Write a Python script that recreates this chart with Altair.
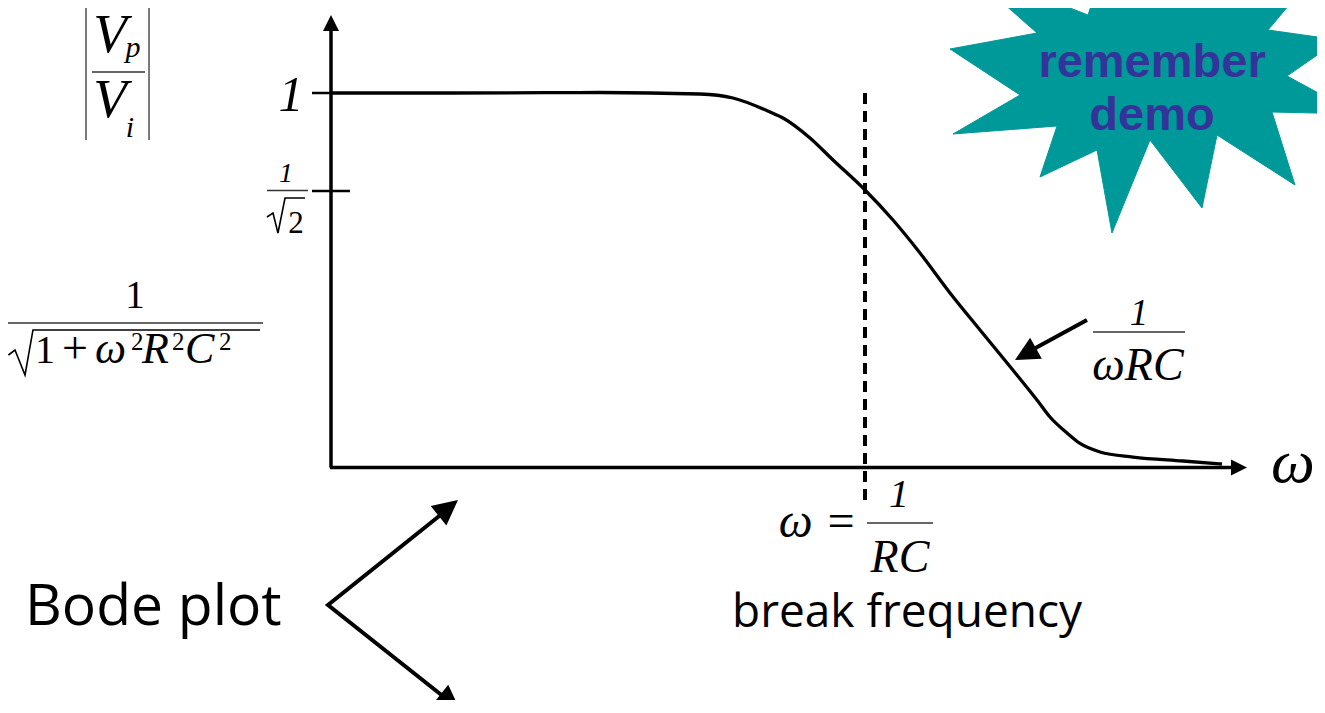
import altair as alt
import pandas as pd

# ---------------- data (chart units: x = omega*RC, y = |Vp/Vi|) ----------------
X_DOMAIN = [-0.60487, 1.84644]
Y_DOMAIN = [-0.62083, 1.22697]

# response curve
curve_x = [0.0, 0.2228, 0.5037, 0.6910, 0.7528, 0.8221, 0.8464, 0.8970, 0.9401, 1.0,
           1.0524, 1.1030, 1.1592, 1.2154, 1.2715, 1.3221, 1.3464, 1.3783, 1.4026,
           1.4401, 1.5019, 1.5955, 1.6685]
curve_y = [1.0, 1.0, 1.0013, 0.9973, 0.9866, 0.9493, 0.9332, 0.8798, 0.8211, 0.7410,
           0.6609, 0.5728, 0.4660, 0.3672, 0.2697, 0.1802, 0.1348, 0.0921, 0.0641,
           0.0414, 0.0280, 0.0174, 0.0093]

# break frequency (dashed)
break_x = [1.0]
break_y = [1.0]
break_y2 = [-0.1001]

# axes
axis_x = [0.0, -0.002]
axis_y = [0.0, 0.0]
axis_x2 = [0.0, 1.6929]
axis_y2 = [1.1816, 0.0]
axis_tip_x = [0.0, 1.7154]
axis_tip_y = [1.2083, 0.0]
axis_tip_angle = [0, 90]

# y ticks at 1 and 1/sqrt(2)
tick_x = [-0.0356, -0.0356]
tick_x2 = [0.0, 0.0356]
tick_y = [1.0, 0.7383]

# thin fraction bars
bar_x = [-0.4476, -0.1199, -0.6067, 1.4270, 1.0037]
bar_x2 = [-0.3483, -0.0431, -0.1273, 1.5993, 1.1273]
bar_y = [1.0561, 0.7397, 0.3858, 0.3618, -0.1482]
# absolute value bars
abs_x = [-0.4588, -0.3408]
abs_y = [1.2350, 1.2350]
abs_y2 = [0.8745, 0.8745]

# radical signs (sqrt 2, sqrt of the denominator)
rad_g = [0, 0, 0, 0, 0, 1, 1, 1, 1, 1]
rad_x = [-0.1199, -0.1086, -0.0993, -0.0861, -0.0487,
         -0.6040, -0.5918, -0.5730, -0.5581, -0.1330]
rad_y = [0.6689, 0.6796, 0.6262, 0.7196, 0.7196,
         0.3004, 0.3137, 0.2470, 0.3672, 0.3672]

# 1/(omega RC) pointer arrow
ptr_x = [1.4157]
ptr_y = [0.3939]
ptr_x2 = [1.3090]
ptr_y2 = [0.3111]
ptr_tip_x = [1.2809]
ptr_tip_y = [0.2871]
ptr_tip_angle = [240.9]

# "Bode plot" fork arrows (polyline)
fork_x = [0.2097, -0.0056, 0.2116]
fork_y = [-0.1215, -0.3672, -0.6128]
fork_tip_x = [0.2378, 0.2416]
fork_tip_y = [-0.0868, -0.6475]
fork_tip_angle = [51.1, 128.5]

# "remember demo" star
star_x = [1.1592, 1.3221, 1.1779, 1.4176, 1.4438, 1.5431, 1.5993, 1.6648, 1.8052,
          1.7547, 1.8876, 1.7903, 1.9213, 1.7622, 1.8052, 1.6592, 1.6311, 1.5337,
          1.4625, 1.4345, 1.3277, 1.3596, 1.1648, 1.2903, 1.1592]
star_y = [1.1175, 1.1602, 1.3418, 1.2083, 1.3204, 1.2270, 1.3017, 1.2403, 1.2537,
          1.1682, 1.1415, 1.0454, 0.9439, 0.9492, 0.7543, 0.8879, 0.6929, 0.8745,
          0.6262, 0.8478, 0.7757, 0.9119, 0.8905, 0.9947, 1.1175]

SERIF = "Liberation Serif"
HAND = "Open Sans"
ARROW = "M0,0L1,2L-1,2Z"


def X():
    return alt.X("x:Q", scale=alt.Scale(domain=X_DOMAIN, nice=False, zero=False), axis=None)


def Y():
    return alt.Y("y:Q", scale=alt.Scale(domain=Y_DOMAIN, nice=False, zero=False), axis=None)


def segs(xs, ys, x2s, y2s, width, color="black", dash=None):
    df = pd.DataFrame({"x": xs, "y": ys, "x2": x2s, "y2": y2s})
    kw = dict(color=color, strokeWidth=width)
    if dash:
        kw["strokeDash"] = dash
    return alt.Chart(df).mark_rule(**kw).encode(x=X(), y=Y(), x2="x2:Q", y2="y2:Q")


def heads(xs, ys, angles, size):
    df = pd.DataFrame({"x": xs, "y": ys, "a": angles})
    return alt.Chart(df).mark_point(shape=ARROW, filled=True, size=size, color="black",
                                    opacity=1, strokeWidth=0).encode(
        x=X(), y=Y(), angle=alt.Angle("a:Q", scale=None))


def label(texts, xs, ys, size, style="italic", font=SERIF, align="center",
          weight="normal", color="black"):
    df = pd.DataFrame({"x": xs, "y": ys, "t": texts})
    return alt.Chart(df).mark_text(fontSize=size, fontStyle=style, font=font, align=align,
                                   baseline="alphabetic", fontWeight=weight,
                                   color=color).encode(x=X(), y=Y(), text="t:N")


star_df = pd.DataFrame({"x": star_x, "y": star_y, "i": list(range(len(star_x)))})
star = alt.Chart(star_df).mark_line(fill="#009999", stroke="#009999", strokeWidth=1,
                                    interpolate="linear", clip=True).encode(
    x=X(), y=Y(), order="i:Q")

curve_df = pd.DataFrame({"x": curve_x, "y": curve_y})
curve = alt.Chart(curve_df).mark_line(color="black", strokeWidth=3.3,
                                      interpolate="monotone").encode(x=X(), y=Y())

fork_df = pd.DataFrame({"x": fork_x, "y": fork_y, "i": [0, 1, 2]})
fork = alt.Chart(fork_df).mark_line(color="black", strokeWidth=4, strokeJoin="miter").encode(
    x=X(), y=Y(), order="i:Q")

rad_df = pd.DataFrame({"x": rad_x, "y": rad_y, "g": rad_g, "i": list(range(len(rad_x)))})
radicals = alt.Chart(rad_df).mark_line(color="black", strokeWidth=1.6,
                                       strokeJoin="miter").encode(
    x=X(), y=Y(), detail="g:N", order="i:Q")

layers = [
    star,
    label(["remember", "demo"], [1.5375, 1.5375], [1.0427, 0.9012], 47, style="normal",
          font="Liberation Sans", weight="bold", color="#333399"),
    segs(axis_x, axis_y, axis_x2, axis_y2, 3.5),
    heads(axis_tip_x, axis_tip_y, axis_tip_angle, 256),
    segs(tick_x, tick_y, tick_x2, tick_y, 2.5),
    segs(break_x, break_y, break_x, break_y2, 4, dash=[11, 7]),
    curve,
    segs(bar_x, bar_y, bar_x2, bar_y, 1.3, color="#333333"),
    segs(abs_x, abs_y, abs_x, abs_y2, 1.3, color="#333333"),
    radicals,
    segs(ptr_x, ptr_y, ptr_x2, ptr_y2, 4),
    heads(ptr_tip_x, ptr_tip_y, ptr_tip_angle, 576),
    fork,
    heads(fork_tip_x, fork_tip_y, fork_tip_angle, 625),
    # |Vp / Vi|
    label(["V", "V"], [-0.4139, -0.4139], [1.1095, 0.9359], 55),
    label(["p"], [-0.3708], [1.0961], 30),
    label(["i"], [-0.3764], [0.8825], 30),
    # y tick labels
    label(["1"], [-0.0749], [0.9519], 50),
    label(["1"], [-0.0843], [0.7623], 28),
    label(["2"], [-0.0655], [0.6262], 31, style="normal"),
    # 1 / sqrt(1 + w^2 R^2 C^2)
    label(["1"], [-0.3670], [0.4259], 39, style="normal"),
    label(["1"], [-0.5356], [0.2790], 40, style="normal"),
    label(["+"], [-0.4794], [0.2790], 46, style="normal"),
    label(["ω", "R", "C"], [-0.4419, -0.3539, -0.2734], [0.2790, 0.2790, 0.2790], 44,
          align="left"),
    label(["2", "2", "2"], [-0.3745, -0.2978, -0.2097], [0.3137, 0.3137, 0.3137], 25,
          style="normal", align="left"),
    # 1 / (w R C)
    label(["1"], [1.5131], [0.3805], 37),
    label(["ωRC"], [1.5112], [0.2336], 46),
    # w = 1/RC
    label(["ω ="], [0.9850], [-0.1856], 48, align="right"),
    label(["1"], [1.0637], [-0.1055], 40),
    label(["RC"], [1.0655], [-0.2790], 46),
    # axis label
    label(["ω"], [1.8015], [-0.0387], 62),
    # captions
    label(["break frequency"], [1.0787], [-0.4272], 46, style="normal", font=HAND),
    label(["Bode plot"], [-0.5730], [-0.4205], 57, style="normal", font=HAND, align="left"),
]

chart = alt.layer(*layers).properties(
    width=1309, height=692, autosize="none", padding=0, background="white"
).configure_view(stroke=None)

chart.save("out.html", embed_options={"renderer": "svg", "actions": False})
